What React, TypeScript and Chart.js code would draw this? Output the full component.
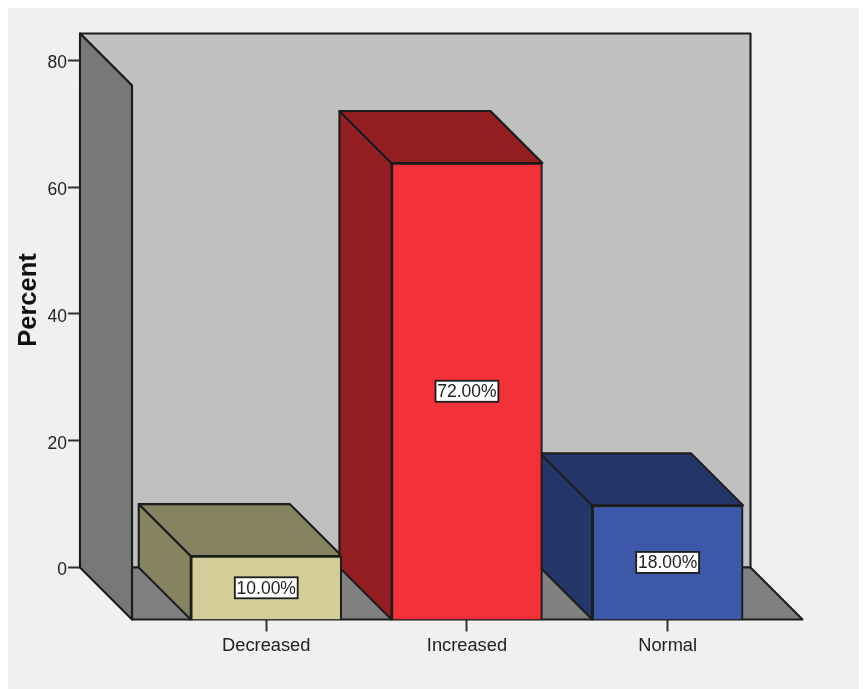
import React, { useEffect, useRef } from "react";
import { Chart, registerables } from "chart.js";

Chart.register(...registerables);

const categories = ["Decreased", "Increased", "Normal"];
const percentValues = [10, 72, 18];
const faceColors = ["#d3ce97", "#f33139", "#3d58a9"];
const shadeColors = ["#858360", "#951e23", "#25366b"];
const valueTicks = [0, 20, 40, 60, 80];
const axisTitle = "Percent";

const FONT = '"Liberation Sans", Arial, sans-serif';
const LINE = "#1c1c1c";
const DEPTH = 52;

function poly(ctx: CanvasRenderingContext2D, pts: number[][], fill: string, lw = 2.1) {
  ctx.beginPath();
  pts.forEach(([x, y], i) => (i ? ctx.lineTo(x, y) : ctx.moveTo(x, y)));
  ctx.closePath();
  ctx.fillStyle = fill;
  ctx.fill();
  ctx.lineWidth = lw;
  ctx.strokeStyle = LINE;
  ctx.lineJoin = "round";
  ctx.stroke();
}

// Walls and floor of the box, plus the receding faces of each bar.
const depthPlugin = {
  id: "depthFaces",
  beforeDatasetsDraw(chart: any) {
    const { ctx, chartArea: a } = chart;
    const frontLeft = a.left + DEPTH;
    const backBottom = a.bottom - DEPTH;
    const backRight = a.right - DEPTH;
    ctx.save();
    poly(ctx, [[a.left, a.top], [backRight, a.top], [backRight, backBottom], [frontLeft, backBottom], [frontLeft, a.top + DEPTH]], "#c0c0c0");
    poly(ctx, [[frontLeft, backBottom], [backRight, backBottom], [a.right, a.bottom], [frontLeft, a.bottom]], "#808080");
    poly(ctx, [[a.left, a.top], [frontLeft, a.top + DEPTH], [frontLeft, a.bottom], [a.left, backBottom]], "#787878");
    chart.getDatasetMeta(0).data.forEach((bar: any, i: number) => {
      const l = bar.x - bar.width / 2;
      const r = bar.x + bar.width / 2;
      const t = bar.y;
      const b = bar.base;
      poly(ctx, [[l, t], [l - DEPTH, t - DEPTH], [l - DEPTH, b - DEPTH], [l, b]], shadeColors[i]);
      poly(ctx, [[l, t], [l - DEPTH, t - DEPTH], [r - DEPTH, t - DEPTH], [r, t]], shadeColors[i]);
    });
    ctx.restore();
  },
  afterDatasetsDraw(chart: any) {
    const { ctx, chartArea: a } = chart;
    ctx.save();
    ctx.font = `17.5px ${FONT}`;
    ctx.textAlign = "center";
    ctx.textBaseline = "middle";
    chart.getDatasetMeta(0).data.forEach((bar: any, i: number) => {
      const text = `${percentValues[i].toFixed(2)}%`;
      const w = ctx.measureText(text).width + 3.5;
      const cy = (bar.y + bar.base) / 2;
      ctx.fillStyle = "#ffffff";
      ctx.fillRect(bar.x - w / 2, cy - 10.5, w, 21);
      ctx.lineWidth = 1.8;
      ctx.strokeStyle = LINE;
      ctx.strokeRect(bar.x - w / 2, cy - 10.5, w, 21);
      ctx.fillStyle = "#222222";
      ctx.fillText(text, bar.x, cy + 1);
    });
    // Axis title, centred a little above the middle of the wall.
    ctx.font = `bold 25.5px ${FONT}`;
    ctx.fillStyle = "#111111";
    ctx.translate(21, a.top + 266.5);
    ctx.rotate(-Math.PI / 2);
    ctx.fillText(axisTitle, 0, 0);
    ctx.restore();
  },
};

export default function App() {
  const ref = useRef<HTMLCanvasElement>(null);

  useEffect(() => {
    document.documentElement.style.overflow = "hidden";
    const chart = new Chart(ref.current as HTMLCanvasElement, {
      type: "bar",
      data: {
        datasets: [
          {
            data: percentValues.map((y, x) => ({ x, y })),
            backgroundColor: faceColors,
            borderColor: LINE,
            borderWidth: 2.1,
            barThickness: 151,
            yAxisID: "y",
            xAxisID: "x",
          },
        ],
      },
      options: {
        responsive: false,
        animation: false,
        events: [],
        layout: { padding: { left: 0, top: 25.5, right: 64.5, bottom: 0 } },
        plugins: { legend: { display: false }, tooltip: { enabled: false }, title: { display: false } },
        scales: {
          x: {
            type: "linear",
            position: "bottom",
            offset: false,
            min: -0.928,
            max: 2.672,
            afterBuildTicks: (s: any) => {
              s.ticks = categories.map((_, value) => ({ value }));
            },
            afterFit: (s: any) => {
              s.height = 69.5;
            },
            border: { display: false },
            grid: { offset: false, drawOnChartArea: false, drawTicks: true, tickLength: 12, tickWidth: 2, tickColor: "#333333" },
            ticks: {
              autoSkip: false,
              maxRotation: 0,
              padding: 3,
              color: "#222222",
              font: { family: FONT, size: 18.3 },
              callback: (v: any) => categories[v],
            },
          },
          // Front plane of the bars.
          y: { type: "linear", display: false, position: "left", min: 0, max: 92.43 },
          // Value axis, read along the back edge of the left wall.
          yBack: {
            type: "linear",
            position: "left",
            min: -8.2,
            max: 84.23,
            afterBuildTicks: (s: any) => {
              s.ticks = valueTicks.map((value) => ({ value }));
            },
            afterFit: (s: any) => {
              s.width = 72;
            },
            border: { display: false },
            grid: { drawOnChartArea: false, drawTicks: true, tickLength: 12, tickWidth: 2, tickColor: "#333333" },
            ticks: {
              padding: 1,
              labelOffset: 3,
              color: "#222222",
              font: { family: FONT, size: 17.5 },
            },
          },
        },
      },
      plugins: [depthPlugin],
    } as any);
    return () => chart.destroy();
  }, []);

  return (
    <canvas
      ref={ref}
      width={859}
      height={681}
      style={{ display: "block", width: 859, height: 681, background: "#f0f0f0" }}
    />
  );
}
